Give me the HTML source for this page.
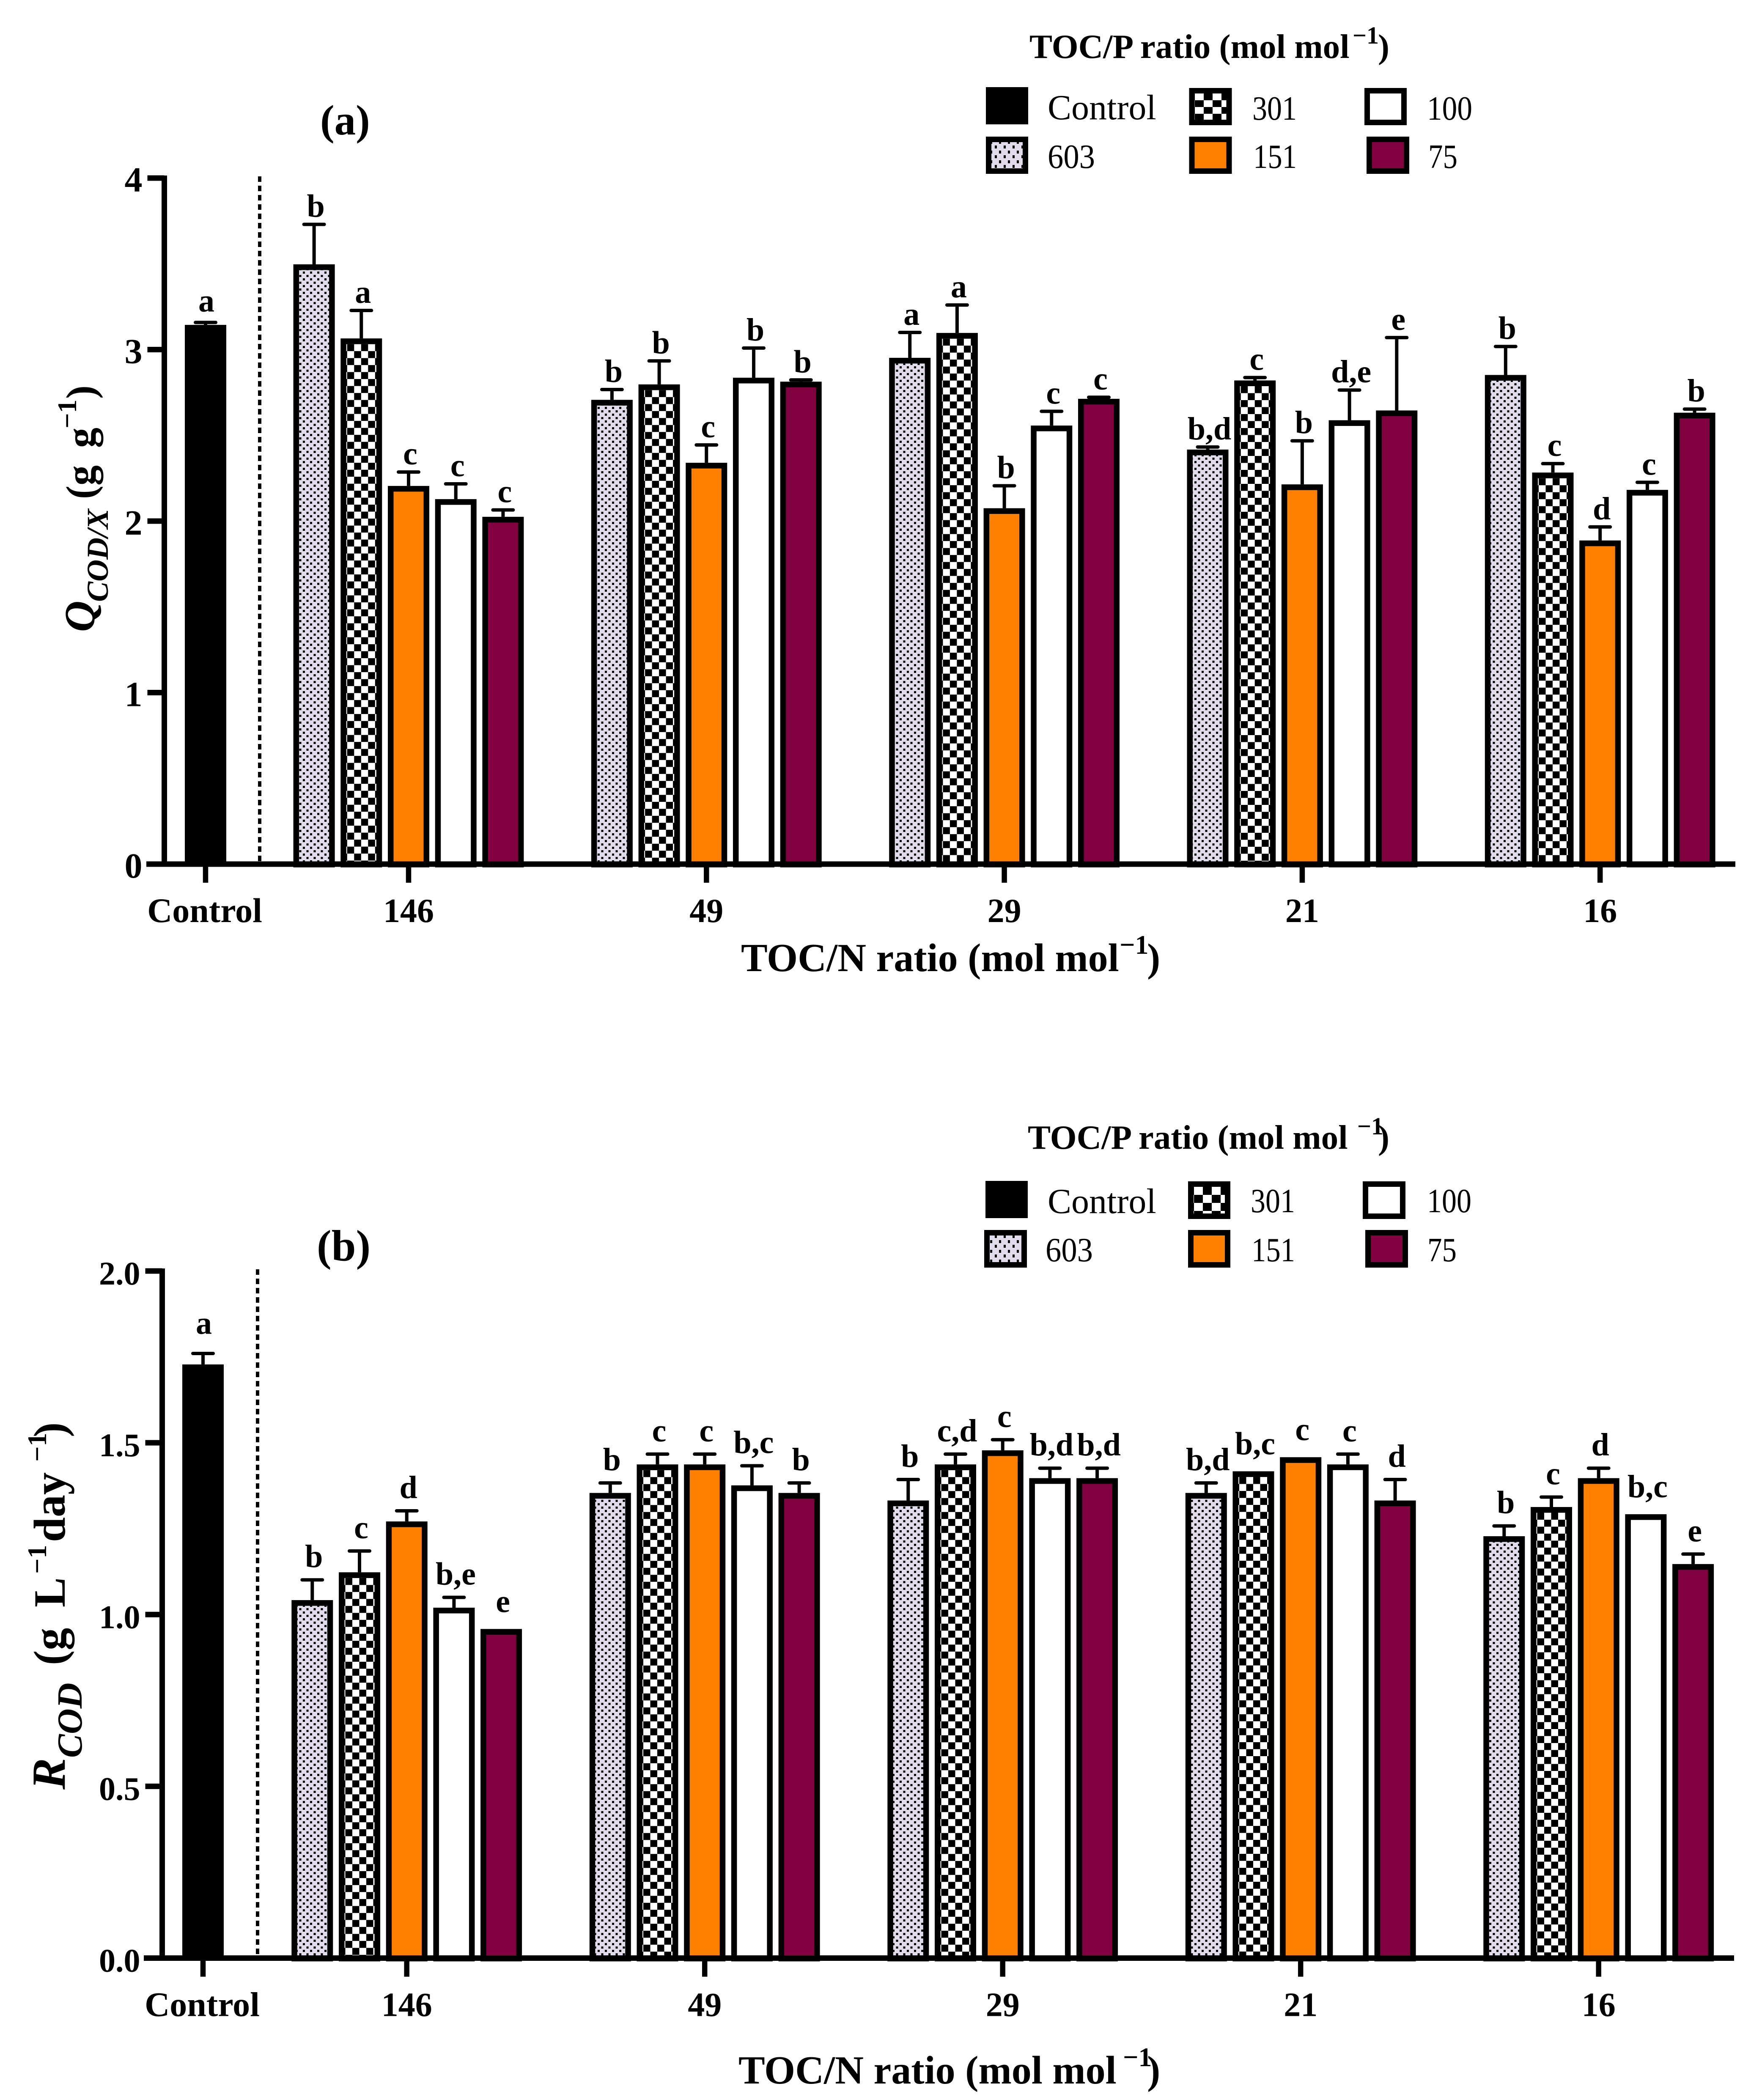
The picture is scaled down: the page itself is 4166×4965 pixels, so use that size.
<!DOCTYPE html>
<html lang="en">
<head>
<meta charset="utf-8">
<title>TOC/N and TOC/P ratio bar charts</title>
<style>
html,body{margin:0;padding:0;background:#fff;}
svg{display:block;}
text{font-family:"Liberation Serif",serif;fill:#000;}
.b{font-weight:bold;}
</style>
</head>
<body>
<svg id="chart" xmlns="http://www.w3.org/2000/svg" width="4166" height="4965" viewBox="0 0 4166 4965">
  <rect x="0" y="0" width="4166" height="4965" fill="#fff"/>
  <defs id="defs">
    <pattern id="dots" patternUnits="userSpaceOnUse" x="0" y="0" width="17" height="16">
      <rect width="17" height="16" fill="#e0dceb"/>
      <rect x="2" y="2" width="5" height="5" fill="#000"/>
      <rect x="10.5" y="10" width="5" height="5" fill="#000"/>
    </pattern>
    <pattern id="legend-dots" patternUnits="userSpaceOnUse" x="2344" y="336" width="21" height="23">
      <rect width="21" height="23" fill="#e0dceb"/>
      <rect x="8" y="8" width="5" height="7" fill="#000"/>
      <rect x="18" y="20" width="5" height="7" fill="#000"/>
      <rect x="-3" y="20" width="5" height="7" fill="#000"/>
      <rect x="18" y="-3" width="5" height="7" fill="#000"/>
      <rect x="-3" y="-3" width="5" height="7" fill="#000"/>
    </pattern>
    <pattern id="legend-check" patternUnits="userSpaceOnUse" x="2825" y="221" width="42" height="32">
      <rect width="42" height="32" fill="#fff"/>
      <rect x="21" y="0" width="21" height="16" fill="#000"/>
      <rect x="0" y="16" width="21" height="16" fill="#000"/>
    </pattern>
    <pattern id="legend-check-b" patternUnits="userSpaceOnUse" x="2823" y="2806" width="42" height="38">
      <rect width="42" height="38" fill="#fff"/>
      <rect x="21" y="0" width="21" height="19" fill="#000"/>
      <rect x="0" y="19" width="21" height="19" fill="#000"/>
    </pattern>
  </defs>

  <!-- Panel a legend -->
  <g>
    <text class="b" font-size="81" y="137"><tspan x="2434">TOC/P ratio (mol mol</tspan><tspan x="3198" y="103" font-size="58">−1</tspan><tspan x="3258" y="137">)</tspan></text>
    <rect x="2331" y="206" width="100" height="88" fill="#000"/>
    <text x="2477" y="282" font-size="84">Control</text>
    <rect x="2818" y="214.5" width="88" height="75" fill="url(#legend-check)" stroke="#000" stroke-width="13"/>
    <text x="2961" y="283" font-size="80" textLength="105" lengthAdjust="spacingAndGlyphs">301</text>
    <rect x="3232.5" y="214.5" width="87" height="75" fill="#fff" stroke="#000" stroke-width="13"/>
    <text x="3374" y="283" font-size="80" textLength="107" lengthAdjust="spacingAndGlyphs">100</text>
    <rect x="2337.5" y="329.5" width="87" height="75" fill="url(#legend-dots)" stroke="#000" stroke-width="13"/>
    <text x="2477" y="397" font-size="80" textLength="112" lengthAdjust="spacingAndGlyphs">603</text>
    <rect x="2818" y="329.5" width="88" height="75" fill="#ff8000" stroke="#000" stroke-width="13"/>
    <text x="2963" y="397" font-size="80" textLength="103" lengthAdjust="spacingAndGlyphs">151</text>
    <rect x="3237.5" y="329.5" width="88" height="75" fill="#800040" stroke="#000" stroke-width="13"/>
    <text x="3377" y="397" font-size="80" textLength="69" lengthAdjust="spacingAndGlyphs">75</text>
  </g>

  <text class="b" x="757" y="318" font-size="101">(a)</text>

  <g transform="translate(223,1494) rotate(-90)">
    <text class="b" font-size="96"><tspan x="0" y="0" font-style="italic" font-size="102">Q</tspan><tspan x="71" y="32" font-size="72" font-style="italic">COD/X</tspan><tspan x="314" y="0">(g</tspan><tspan x="435" y="0">g</tspan><tspan x="481" y="-43" font-size="64">−1</tspan><tspan x="551" y="0">)</tspan></text>
  </g>

  <text class="b" font-size="94" y="2296"><tspan x="1752">TOC/N ratio (mol mol</tspan><tspan x="2647" y="2255" font-size="64">−1</tspan><tspan x="2712" y="2296">)</tspan></text>

  <!-- Panel b legend -->
  <g>
    <text class="b" font-size="81" y="2716"><tspan x="2430">TOC/P ratio (mol mol</tspan><tspan x="3209" y="2682" font-size="58">−1</tspan><tspan x="3258" y="2716">)</tspan></text>
    <rect x="2330" y="2792" width="100" height="88" fill="#000"/>
    <text x="2477" y="2868" font-size="84">Control</text>
    <rect x="2815.5" y="2799.5" width="87" height="76" fill="url(#legend-check-b)" stroke="#000" stroke-width="13"/>
    <text x="2957" y="2866" font-size="80" textLength="105" lengthAdjust="spacingAndGlyphs">301</text>
    <rect x="3228.5" y="2799.5" width="88" height="76" fill="#fff" stroke="#000" stroke-width="13"/>
    <text x="3374" y="2866" font-size="80" textLength="105" lengthAdjust="spacingAndGlyphs">100</text>
    <rect x="2333.5" y="2914.5" width="88" height="76" fill="url(#legend-dots)" stroke="#000" stroke-width="13"/>
    <text x="2472" y="2982" font-size="80" textLength="112" lengthAdjust="spacingAndGlyphs">603</text>
    <rect x="2815.5" y="2914.5" width="87" height="76" fill="#ff8000" stroke="#000" stroke-width="13"/>
    <text x="2959" y="2982" font-size="80" textLength="103" lengthAdjust="spacingAndGlyphs">151</text>
    <rect x="3234.5" y="2914.5" width="88" height="76" fill="#800040" stroke="#000" stroke-width="13"/>
    <text x="3375" y="2982" font-size="80" textLength="69" lengthAdjust="spacingAndGlyphs">75</text>
  </g>

  <text class="b" x="749" y="2980" font-size="104">(b)</text>

  <g transform="translate(153,4231) rotate(-90)">
    <text class="b" font-size="106"><tspan x="0" y="0" font-style="italic" font-size="112">R</tspan><tspan x="75" y="40" font-size="84" font-style="italic">COD</tspan><tspan x="294" y="0">(g</tspan><tspan x="431" y="0">L</tspan><tspan x="510" y="-44" font-size="64">−1</tspan><tspan x="585" y="0">day</tspan><tspan x="775" y="-44" font-size="64">−1</tspan><tspan x="833" y="0">)</tspan></text>
  </g>

  <text class="b" font-size="94" y="4926"><tspan x="1746">TOC/N ratio (mol mol</tspan><tspan x="2655" y="4885" font-size="64">−1</tspan><tspan x="2712" y="4926">)</tspan></text>

  <g id="plots"></g>
</svg>

<script>
const groups = ['146', '49', '29', '21', '16'];
const controlLabel = 'Control';
const seriesNames = ['603', '301', '151', '100', '75'];

const aTicks = [0, 1, 2, 3, 4];
const aTickLabels = ['0', '1', '2', '3', '4'];
const aControl = [3.144];
const aControlErr = [3.158];
const aControlLetter = ['a'];
const a603 = [3.497, 2.707, 2.952, 2.417, 2.852];
const a603Err = [3.730, 2.767, 3.100, 2.432, 3.018];
const a603Letters = ['b', 'b', 'a', 'b,d', 'b'];
const a301 = [3.065, 2.797, 3.097, 2.820, 2.283];
const a301Err = [3.228, 2.934, 3.260, 2.837, 2.335];
const a301Letters = ['a', 'b', 'a', 'c', 'c'];
const a151 = [2.205, 2.340, 2.075, 2.214, 1.887];
const a151Err = [2.286, 2.444, 2.206, 2.468, 1.966];
const a151Letters = ['c', 'c', 'b', 'b', 'd'];
const a100 = [2.128, 2.836, 2.557, 2.588, 2.182];
const a100Err = [2.217, 3.009, 2.640, 2.764, 2.226];
const a100Letters = ['c', 'b', 'c', 'd,e', 'c'];
const a75 = [2.025, 2.813, 2.713, 2.645, 2.632];
const a75Err = [2.065, 2.823, 2.722, 3.070, 2.653];
const a75Letters = ['c', 'b', 'c', 'e', 'b'];

const bTicks = [0, 0.5, 1, 1.5, 2];
const bTickLabels = ['0.0', '0.5', '1.0', '1.5', '2.0'];
const bControl = [1.728];
const bControlErr = [1.760];
const bControlLetter = ['a'];
const b603 = [1.042, 1.354, 1.332, 1.354, 1.228];
const b603Err = [1.101, 1.383, 1.393, 1.383, 1.258];
const b603Letters = ['b', 'b', 'b', 'b,d', 'b'];
const b301 = [1.123, 1.437, 1.437, 1.417, 1.313];
const b301Err = [1.185, 1.467, 1.467, 1.417, 1.342];
const b301Letters = ['c', 'c', 'c,d', 'b,c', 'c'];
const b151 = [1.271, 1.437, 1.478, 1.458, 1.397];
const b151Err = [1.302, 1.467, 1.509, 1.458, 1.426];
const b151Letters = ['d', 'c', 'c', 'c', 'd'];
const b100 = [1.020, 1.376, 1.397, 1.437, 1.292];
const b100Err = [1.050, 1.433, 1.426, 1.467, 1.292];
const b100Letters = ['b,e', 'b,c', 'b,d', 'c', 'b,c'];
const b75 = [0.958, 1.354, 1.397, 1.332, 1.147];
const b75Err = [0.958, 1.383, 1.426, 1.393, 1.176];
const b75Letters = ['e', 'b', 'b,d', 'd', 'e'];

const NS = 'http://www.w3.org/2000/svg';
const plots = document.getElementById('plots');
const defs = document.getElementById('defs');
let patternCount = 0;

function make(parent, tag, attrs, txt) {
  const el = document.createElementNS(NS, tag);
  for (const k in attrs) el.setAttribute(k, attrs[k]);
  if (txt !== undefined) el.textContent = txt;
  parent.appendChild(el);
  return el;
}

function checkerFor(left, top) {
  patternCount += 1;
  const id = 'check-' + patternCount;
  const p = make(defs, 'pattern', {id: id, patternUnits: 'userSpaceOnUse', x: left, y: top, width: 33, height: 33});
  make(p, 'rect', {width: 33, height: 33, fill: '#fff'});
  make(p, 'rect', {x: 0, y: 0, width: 16.5, height: 16.5, fill: '#000'});
  make(p, 'rect', {x: 16.5, y: 16.5, width: 16.5, height: 16.5, fill: '#000'});
  return 'url(#' + id + ')';
}

function drawPanel(c) {
  const root = make(plots, 'g', {});
  
  

  const maxTick = c.ticks[c.ticks.length - 1];
  const yScale = function (v) { return c.y0 + (c.yTop - c.y0) * v / maxTick; };
  const groupX = function (i) { return c.firstGroup + c.groupStep * i; };
  const BAR = 98, STROKE = 13.5, BAR_STEP = 111.7;

  function errorBar(parent, x, v, e, name) {
    if (e <= v) return;
    const stem = make(parent, 'line', {x1: x, x2: x, y1: yScale(e), y2: yScale(v), stroke: '#000', 'stroke-width': 8});
    
    
    const cap = make(parent, 'line', {x1: x - 24, x2: x + 24, y1: yScale(e), y2: yScale(e), stroke: '#000', 'stroke-width': 8, 'stroke-linecap': 'round'});
    
    
  }

  function letter(parent, x, v, e, txt, name) {
    const off = e > v ? c.letterGap : c.letterGapBare;
    const t = make(parent, 'text', {x: x + 4, y: yScale(Math.max(v, e)) - off, 'font-size': 76, 'font-weight': 'bold', 'text-anchor': 'middle'}, txt);
    
    
  }

  function bar(parent, x, v, fill, name) {
    const top = yScale(v);
    const r = make(parent, 'rect', {x: x - BAR / 2 + STROKE / 2, y: top + STROKE / 2, width: BAR - STROKE, height: c.y0 - top - STROKE / 2 + 1, fill: fill, stroke: '#000', 'stroke-width': STROKE});
    
    
  }

  // Control bar
  const ctlG = make(root, 'g', {});
  
  
  errorBar(ctlG, c.controlX, c.control[0], c.controlErr[0], 'control');
  const ctl = make(ctlG, 'rect', {x: c.controlX - BAR / 2, y: yScale(c.control[0]), width: BAR, height: c.y0 - yScale(c.control[0]) + 1, fill: '#000'});
  
  
  letter(ctlG, c.controlX - 2, c.control[0], c.controlErr[0] + 0.02, c.controlLetter[0], 'control');

  // Divider
  const div = make(root, 'line', {x1: c.dividerX, x2: c.dividerX, y1: yScale(maxTick) - 4, y2: c.y0, stroke: '#000', 'stroke-width': 8, 'stroke-dasharray': '13 9'});
  
  

  // Grouped bars
  c.series.forEach(function (s, si) {
    const sg = make(root, 'g', {});
    
    
    s.values.forEach(function (v, gi) {
      const x = groupX(gi) + (si - 2) * BAR_STEP;
      const name = 'bar-' + groups[gi] + '-' + seriesNames[si];
      errorBar(sg, x, v, s.errs[gi], name);
      let fill = s.fill;
      if (fill === 'check') fill = checkerFor(x - BAR / 2 + STROKE + 2, yScale(v) + STROKE);
      bar(sg, x, v, fill, name);
      letter(sg, x, v, s.errs[gi], s.letters[gi], name);
    });
  });

  // Axes
  const yAxis = make(root, 'line', {x1: c.axisX, x2: c.axisX, y1: yScale(maxTick) - 6, y2: c.y0 + 6, stroke: '#000', 'stroke-width': 13});
  
  
  const xAxis = make(root, 'line', {x1: c.xAxisStart, x2: c.xAxisEnd, y1: c.y0, y2: c.y0, stroke: '#000', 'stroke-width': 13});
  
  

  c.ticks.forEach(function (t, i) {
    const y = yScale(t);
    const tick = make(root, 'line', {x1: c.axisX - 40, x2: c.axisX, y1: y, y2: y, stroke: '#000', 'stroke-width': 13});
    
    
    const lab = make(root, 'text', {x: c.axisX - 52, y: y + 32, 'font-size': c.tickFont, 'font-weight': 'bold', 'text-anchor': 'end'}, c.tickLabels[i]);
    
    
  });

  const ctlTick = make(root, 'line', {x1: c.controlX, x2: c.controlX, y1: c.y0, y2: c.y0 + 44, stroke: '#000', 'stroke-width': 12.5});
  
  
  const ctlLab = make(root, 'text', {x: c.controlX - 2, y: c.y0 + 137, 'font-size': 82, 'font-weight': 'bold', 'text-anchor': 'middle'}, controlLabel);
  
  

  groups.forEach(function (g, i) {
    const x = groupX(i);
    const tick = make(root, 'line', {x1: x, x2: x, y1: c.y0, y2: c.y0 + 44, stroke: '#000', 'stroke-width': 12.5});
    
    
    const lab = make(root, 'text', {x: x, y: c.y0 + 137, 'font-size': 80, 'font-weight': 'bold', 'text-anchor': 'middle'}, g);
    
    
  });
}

drawPanel({
  id: 'a', y0: 2043, yTop: 421, axisX: 388.5, xAxisStart: 346, xAxisEnd: 4103,
  controlX: 486, dividerX: 614, firstGroup: 966, groupStep: 704.3,
  tickFont: 84, letterGap: 18, letterGapBare: 26,
  ticks: aTicks, tickLabels: aTickLabels,
  control: aControl, controlErr: aControlErr, controlLetter: aControlLetter,
  series: [
    {values: a603, errs: a603Err, letters: a603Letters, fill: 'url(#dots)'},
    {values: a301, errs: a301Err, letters: a301Letters, fill: 'check'},
    {values: a151, errs: a151Err, letters: a151Letters, fill: '#ff8000'},
    {values: a100, errs: a100Err, letters: a100Letters, fill: '#fff'},
    {values: a75, errs: a75Err, letters: a75Letters, fill: '#800040'}
  ]
});

drawPanel({
  id: 'b', y0: 4629.5, yTop: 3005, axisX: 383.5, xAxisStart: 340, xAxisEnd: 4100,
  controlX: 480, dividerX: 609, firstGroup: 961.7, groupStep: 704.5,
  tickFont: 78, letterGap: 30, letterGapBare: 40,
  ticks: bTicks, tickLabels: bTickLabels,
  control: bControl, controlErr: bControlErr, controlLetter: bControlLetter,
  series: [
    {values: b603, errs: b603Err, letters: b603Letters, fill: 'url(#dots)'},
    {values: b301, errs: b301Err, letters: b301Letters, fill: 'check'},
    {values: b151, errs: b151Err, letters: b151Letters, fill: '#ff8000'},
    {values: b100, errs: b100Err, letters: b100Letters, fill: '#fff'},
    {values: b75, errs: b75Err, letters: b75Letters, fill: '#800040'}
  ]
});
</script>
</body>
</html>
